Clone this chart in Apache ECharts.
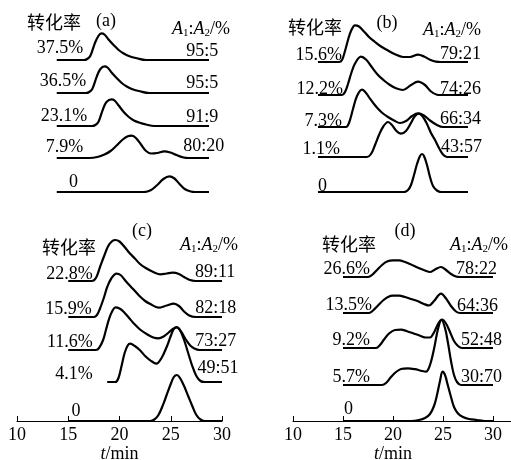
<!DOCTYPE html>
<html>
<head>
<meta charset="utf-8">
<script src="https://cdn.jsdelivr.net/npm/echarts@6/dist/echarts.min.js"></script>
<style>
html, body { margin: 0; padding: 0; background: #fff; }
#main { width: 511px; height: 460px; }
</style>
</head>
<body>
<div id="main"></div>
<script>
// 时间轴刻度 t/min
var xTicks = [10, 15, 20, 25, 30];

// (a) 各曲线 [t/min, 信号]，从上到下
var a375 = [[15,0],[17.7,0],[18,1],[18.3,4],[18.75,16.7],[19.1,24],[19.4,26.7],[19.7,25.5],[20.1,20.5],[20.6,15],[21.1,10],[21.6,6.5],[22.1,4],[22.9,1.7],[23.8,0],[30,0]];
var a365 = [[15,0],[17.9,0],[18.2,1],[18.5,4],[18.95,16.7],[19.3,24],[19.7,26.7],[20,25.5],[20.4,20.5],[20.9,15],[21.4,10],[21.9,6.5],[22.4,4],[23.2,1.7],[24.1,0],[30,0]];
var a231 = [[15,0],[18.5,0],[18.8,1],[19.1,4],[19.55,16.7],[19.9,24],[20.4,26.7],[20.7,25.5],[21.1,20.5],[21.6,14],[22.1,9],[22.6,5.5],[23.1,3.5],[23.8,1.5],[24.6,0],[30,0]];
var a79 = [[15,0],[18.2,0],[19,1],[19.7,3.5],[20.3,7],[20.9,12.5],[21.5,18.5],[22,21.8],[22.4,22.3],[22.8,20],[23.3,13.5],[23.8,7],[24.3,4.5],[24.9,5],[25.6,6.7],[26.2,5.5],[26.8,3],[27.5,0.5],[28,0],[30,0]];
var a0 = [[15,0],[23.6,0],[24.3,2],[24.9,7],[25.5,13],[26.1,15.7],[26.6,13.5],[27.1,8],[27.6,3],[28.2,0.5],[28.6,0],[30,0]];
var convA = ['37.5%', '36.5%', '23.1%', '7.9%', '0'];
var ratioA = ['95:5', '95:5', '91:9', '80:20'];

// (b)
var b156 = [[15,0],[17.1,0],[17.4,2],[17.7,11],[18,22],[18.3,31],[18.7,36.7],[19.1,35.5],[19.6,30.5],[20.1,25],[20.7,20],[21.3,15.5],[22,11.5],[22.7,7.7],[23.5,5],[24.2,5],[25,7.3],[25.6,5.5],[26.2,2.3],[26.8,0.3],[27.3,0],[30,0]];
var b122 = [[15,0],[17.4,0],[17.7,3],[18,11],[18.3,21],[18.7,31.5],[19.3,38.3],[19.8,35.5],[20.3,29],[21,20],[21.6,14.5],[22.2,10],[22.8,6.7],[23.5,5],[24.3,10],[25,13.3],[25.7,10],[26.3,3.5],[26.9,0.3],[27.3,0],[30,0]];
var b73 = [[15,0],[17.8,0],[18.1,4],[18.5,18],[18.9,31],[19.4,37.3],[19.8,34],[20.2,28.3],[20.6,23],[21,18.3],[21.5,13.5],[22,10],[22.6,6.5],[23.2,4],[23.8,6],[24.4,11],[25,13.7],[25.6,11.5],[26.2,6.5],[26.9,2],[27.5,0],[30,0]];
var b11 = [[15,0],[19.9,0],[20.3,3],[20.7,12],[21.1,22],[21.5,30],[22,35],[22.4,32],[22.8,26.5],[23.3,23.3],[23.8,26],[24.3,34],[24.7,41],[25.1,43.3],[25.5,40],[25.9,33],[26.3,24],[26.7,17],[27.1,9],[27.5,2.5],[27.9,0],[30,0]];
var b0 = [[15,0],[23.6,0],[24,2],[24.3,7],[24.6,17],[24.9,28],[25.2,36],[25.4,38],[25.6,36],[25.9,27],[26.2,15],[26.5,6],[26.9,1.5],[27.3,0],[30,0]];
var convB = ['15.6%', '12.2%', '7.3%', '1.1%', '0'];
var ratioB = ['79:21', '74:26', '66:34', '43:57'];

// (c)
var c228 = [[15,0],[17.3,0],[17.7,3],[18.1,14],[18.5,25],[18.9,35],[19.3,40],[19.6,41],[20,39.5],[20.5,34],[21,27.7],[21.5,22.5],[22,17],[22.6,12.7],[23.3,9],[24,6.7],[24.6,7.5],[25.2,8.3],[25.8,7],[26.3,4],[26.8,1.2],[27.4,0],[30,0]];
var c159 = [[15,0],[17.5,0],[17.8,2],[18.1,8.5],[18.5,20],[18.8,30],[19.2,38.5],[19.7,43.3],[20.1,42],[20.6,36],[21.3,28.3],[21.9,21.5],[22.5,16],[23,13],[23.8,9.3],[24.6,11.5],[25.3,13.3],[25.8,11],[26.3,5.5],[26.8,1.5],[27.4,0],[30,0]];
var c116 = [[15,0],[17.7,0],[18,2],[18.4,10],[18.7,21],[19,31.7],[19.3,39],[19.6,42.7],[20,41.5],[20.4,38.3],[20.9,32.5],[21.4,26.5],[22,20.5],[22.8,15],[23.3,12.5],[23.8,11.7],[24.3,13.5],[24.8,17.5],[25.2,21],[25.6,22.7],[26,18.5],[26.5,10],[26.9,4.5],[27.3,1.5],[27.8,0],[30,0]];
var c41 = [[18.8,0],[19.6,0],[19.9,4],[20.2,16],[20.5,29],[20.8,36.5],[21.05,38.3],[21.5,36],[22,31.7],[22.5,26],[23,21.7],[23.6,18.3],[24.1,24],[24.6,35],[25,46],[25.3,53],[25.6,55],[25.9,52],[26.3,42],[26.7,29],[27.1,16],[27.5,6],[27.9,1],[28.3,0],[30,0]];
var c0 = [[15,0],[23,0],[23.4,1.5],[23.8,6],[24.2,15],[24.6,26],[25,37],[25.3,44],[25.6,46],[25.9,43],[26.3,35],[26.7,25],[27.1,15],[27.5,6],[27.9,1.5],[28.3,0],[30,0]];
var convC = ['22.8%', '15.9%', '11.6%', '4.1%', '0'];
var ratioC = ['89:11', '82:18', '73:27', '49:51'];

// (d)
var d266 = [[15,0],[17.5,0],[17.9,2],[18.4,7],[18.9,12],[19.4,15.5],[20,16.7],[20.6,16.7],[21.2,15],[21.8,12.5],[22.5,9.3],[23.2,6.5],[23.7,5],[24.2,7.5],[24.8,10],[25.3,7],[25.8,3],[26.3,0.5],[26.7,0],[30,0]];
var d135 = [[15,0],[17.6,0],[18,2.5],[18.5,7.5],[19,12.5],[19.5,16],[20,17.3],[20.6,17.3],[21.2,16],[21.8,14],[22.5,11.7],[23.1,9],[23.6,7.5],[24.1,12],[24.8,19.3],[25.3,14.5],[25.8,7],[26.3,1.5],[26.7,0],[30,0]];
var d92 = [[15,0],[18.3,0],[18.7,3],[19.1,8.5],[19.6,14.5],[20.2,18],[20.8,18.3],[21.4,16.8],[22,14.8],[22.7,12.3],[23.3,10.5],[23.7,10.5],[24.1,15.5],[24.5,24],[24.9,28.3],[25.3,24.5],[25.7,16],[26.1,7],[26.5,2],[26.9,0],[30,0]];
var d57 = [[15,0],[18.9,0],[19.3,2],[19.8,8],[20.3,13],[20.8,16],[21.5,16.7],[22.2,15.8],[22.8,14.3],[23.3,13.3],[23.7,20],[24.1,36],[24.5,56],[24.85,65],[25.2,57],[25.5,42],[25.8,24],[26.1,10],[26.4,3],[26.8,0],[30,0]];
var d0 = [[15,0],[21.8,0],[22.6,1],[23.2,3],[23.7,7],[24.1,15],[24.4,26],[24.7,40],[24.95,49.3],[25.2,46],[25.5,35],[25.8,24],[26.1,14],[26.5,7.5],[27,4],[27.6,2],[28.4,1],[29.2,0],[30,0]];
var convD = ['26.6%', '13.5%', '9.2%', '5.7%', '0'];
var ratioD = ['78:22', '64:36', '52:48', '30:70'];

var SERIF = "'Liberation Serif', 'DejaVu Serif', serif";
var CJK = "'Noto Sans CJK SC', sans-serif";

// 版面：每个小图的网格、曲线基线偏移、标注位置
var panels = [
    { tag: '(a)', curves: [a375, a365, a231, a79, a0], conv: convA, ratio: ratioA,
      grid: { left: 6, top: 0, width: 203, height: 192 }, base: [132, 99, 66, 34, 0], axis: false,
      convT: [17.6, 17.9, 18.0, 17.6, 17.1], convLift: [6, 6, 4, 5, 4],
      ratioT: [30.9, 30.9, 30.9, 31.5], ratioLift: [3, 4, 3, 6],
      head: { cn: [27, 22], tag: [106, 21], ratio: [172, 29] } },
    { tag: '(b)', curves: [b156, b122, b73, b11, b0], conv: convB, ratio: ratioB,
      grid: { left: 268, top: 0, width: 200, height: 192 }, base: [130, 97, 65, 35, 0], axis: false,
      convT: [17.4, 17.5, 17.4, 17.2, 15.9], convLift: [1, 0, 0, 2, 0],
      ratioT: [31.3, 31.3, 31.3, 31.4], ratioLift: [2, 0, 2, 4],
      head: { cn: [288, 27], tag: [387, 23], ratio: [423, 30] } },
    { tag: '(c)', curves: [c228, c159, c116, c41, c0], conv: convC, ratio: ratioC,
      grid: { left: 17, top: 221, width: 205, height: 200 }, base: [140, 104, 71, 39, 0], axis: true,
      convT: [17.4, 17.3, 17.4, 17.4, 16.2], convLift: [1, 2, 2, 2, 4],
      ratioT: [31.3, 31.4, 31.4, 31.6], ratioLift: [3, 3, 3, 8],
      head: { cn: [42, 247], tag: [142, 231], ratio: [180, 245] } },
    { tag: '(d)', curves: [d266, d135, d92, d57, d0], conv: convD, ratio: ratioD,
      grid: { left: 293, top: 221, width: 200, height: 200 }, base: [144, 108, 73, 36, 0], axis: true,
      axisTail: 511,
      convT: [17.7, 17.9, 17.7, 17.7, 16.0], convLift: [2, 2, 2, 2, 6],
      ratioT: [30.4, 30.5, 30.9, 30.9], ratioLift: [2, 1, 2, 2],
      head: { cn: [322, 244], tag: [405, 231], ratio: [450, 245] } }
];

var grids = [], xAxes = [], yAxes = [], series = [];
panels.forEach(function (p, i) {
    grids.push({ left: p.grid.left, top: p.grid.top, width: p.grid.width, height: p.grid.height, outerBoundsMode: 'none' });
    xAxes.push({
        type: 'value', gridIndex: i, min: xTicks[0], max: xTicks[xTicks.length - 1], interval: 5,
        show: p.axis,
        name: p.axis ? '{i|t}/min' : '', nameLocation: 'middle', nameGap: 21,
        nameTextStyle: { fontFamily: SERIF, fontSize: 18, color: '#000',
            rich: { i: { fontFamily: SERIF, fontSize: 18, fontStyle: 'italic', color: '#000' } } },
        axisLine: { show: true, onZero: false, lineStyle: { color: '#000', width: 1 } },
        axisTick: { show: true, inside: true, length: 5, lineStyle: { color: '#000', width: 1 } },
        axisLabel: { show: true, margin: 5, fontFamily: SERIF, fontSize: 18, color: '#000' },
        splitLine: { show: false }
    });
    yAxes.push({ type: 'value', gridIndex: i, min: 0, max: p.grid.height, show: false, splitLine: { show: false } });
    p.curves.forEach(function (c, k) {
        series.push({
            type: 'line', xAxisIndex: i, yAxisIndex: i,
            data: c.map(function (pt) { return [pt[0], pt[1] + p.base[k]]; }),
            showSymbol: false, smooth: 0.35, silent: true,
            lineStyle: { color: '#000', width: 2.2 }
        });
    });
});

var chart = echarts.init(document.getElementById('main'));
chart.setOption({
    animation: false,
    backgroundColor: '#fff',
    grid: grids, xAxis: xAxes, yAxis: yAxes, series: series
});

// 文字标注
var ratioRich = {
    i: { fontFamily: SERIF, fontSize: 18, fontStyle: 'italic', fill: '#000', lineHeight: 20, verticalAlign: 'middle' },
    n: { fontFamily: SERIF, fontSize: 18, fill: '#000', lineHeight: 20, verticalAlign: 'middle' },
    s: { fontFamily: SERIF, fontSize: 11, fill: '#000', lineHeight: 11, verticalAlign: 'bottom' }
};
var graphics = [];
function txt(str, x, y, align, font) {
    graphics.push({ type: 'text', silent: true, style: { text: str, x: x, y: y, fill: '#000',
        font: font || ('18px ' + SERIF), textAlign: align, textVerticalAlign: 'middle' } });
}
panels.forEach(function (p, i) {
    txt('转化率', p.head.cn[0], p.head.cn[1], 'left', '18px ' + CJK);
    txt(p.tag, p.head.tag[0], p.head.tag[1], 'center');
    graphics.push({ type: 'text', silent: true, style: {
        text: '{i|A}{s|1}{n|:}{i|A}{s|2}{n|/%}', rich: ratioRich,
        x: p.head.ratio[0], y: p.head.ratio[1], textAlign: 'left', textVerticalAlign: 'middle' } });
    p.conv.forEach(function (s, k) {
        var pt = chart.convertToPixel({ gridIndex: i }, [p.convT[k], p.base[k]]);
        txt(s, pt[0], pt[1] - p.convLift[k] - 6, 'right');
    });
    p.ratio.forEach(function (s, k) {
        var pt = chart.convertToPixel({ gridIndex: i }, [p.ratioT[k], p.base[k]]);
        txt(s, pt[0], pt[1] - p.ratioLift[k] - 6, 'right');
    });
    // (d) 的横轴线延伸到图边
    if (p.axisTail) {
        var end = chart.convertToPixel({ gridIndex: i }, [xTicks[xTicks.length - 1], 0]);
        graphics.push({ type: 'line', silent: true,
            shape: { x1: end[0], y1: end[1] + 0.5, x2: p.axisTail, y2: end[1] + 0.5 },
            style: { stroke: '#000', lineWidth: 1 } });
    }
});
chart.setOption({ graphic: graphics });
</script>
</body>
</html>
